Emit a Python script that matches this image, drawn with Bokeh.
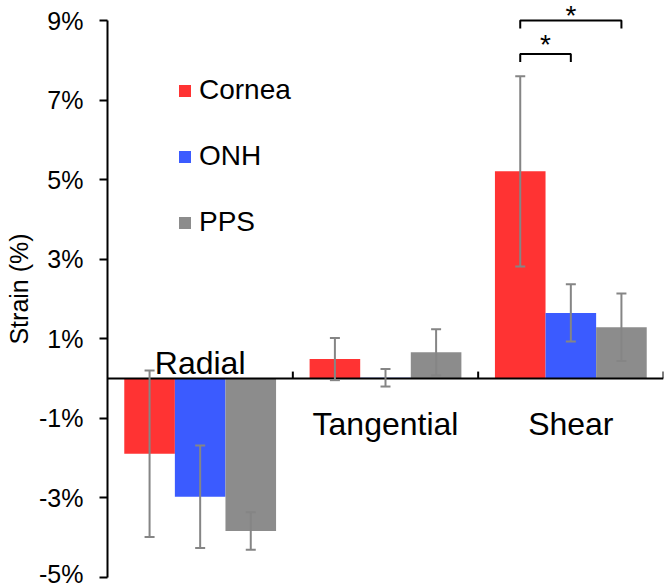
import math
from bokeh.plotting import figure
from bokeh.models import (ColumnDataSource, Range1d, FixedTicker, PrintfTickFormatter,
                          Span, Whisker, TeeHead, Legend, LegendItem)
from bokeh.core.properties import value
from bokeh.embed import file_html
from bokeh.resources import INLINE

# ---- data ----
categories = ["Radial", "Tangential", "Shear"]
series = ["Cornea", "ONH", "PPS"]
cornea = [-1.89, 0.49, 5.21]
cornea_err = [2.09, 0.53, 2.39]
onh = [-2.97, 0.02, 1.65]
onh_err = [1.29, 0.22, 0.72]
pps = [-3.83, 0.66, 1.29]
pps_err = [0.47, 0.58, 0.85]
y_ticks = [-5, -3, -1, 1, 3, 5, 7, 9]
sig_category = "Shear"
sig_pairs = [("Cornea", "ONH"), ("Cornea", "PPS")]
sig_levels = [8.16, 9.0]
sig_marks = ["*", "*"]

# ---- style ----
FONT = "Liberation Sans"
colors = ["#ff3333", "#3b5bff", "#8c8c8c"]
err_color = "#858585"
bar_w = 0.273
offsets = [-bar_w, 0.0, bar_w]
star_offsets = [-9, -5]

p = figure(width=666, height=587, output_backend="svg", toolbar_location=None,
           x_range=Range1d(0, 3), y_range=Range1d(-5, 9.503),
           x_axis_location=None,
           min_border_left=107, min_border_right=3, min_border_top=0, min_border_bottom=10)
p.outline_line_color = None
p.grid.visible = False
p.background_fill_color = "white"

# y axis
ya = p.yaxis[0]
ya.ticker = FixedTicker(ticks=y_ticks)
ya.formatter = PrintfTickFormatter(format="%d%%")
ya.bounds = (-5, 9)
ya.axis_line_width = 2
ya.axis_line_color = "black"
ya.major_tick_line_width = 2
ya.major_tick_in = 0
ya.major_tick_out = 8
ya.minor_tick_line_color = None
ya.major_label_standoff = 16
ya.major_label_text_font = FONT
ya.major_label_text_font_size = "25px"
ya.major_label_text_color = "black"
ya.axis_label = "Strain (%)"
ya.axis_label_text_font = FONT
ya.axis_label_text_font_size = "25px"
ya.axis_label_text_font_style = "normal"
ya.axis_label_text_color = "black"
ya.axis_label_standoff = 3

# baseline at zero with small upward ticks at category boundaries
p.add_layout(Span(location=0, dimension="width", line_color="black", line_width=2))
bounds_x = list(range(1, len(categories) + 1))
p.ray(x=bounds_x, y=[0] * len(bounds_x), length=7, length_units="screen",
      angle=math.pi / 2, line_color="black", line_width=2)

# bars + error bars
vals_all = [cornea, onh, pps]
errs_all = [cornea_err, onh_err, pps_err]
renderers = []
centers = {}
for j, s in enumerate(series):
    xs = [i + 0.5 + offsets[j] for i in range(len(categories))]
    for i, c in enumerate(categories):
        centers[(c, s)] = xs[i]
    vals = vals_all[j]
    errs = errs_all[j]
    src = ColumnDataSource(dict(x=xs, top=vals,
                                lower=[v - e for v, e in zip(vals, errs)],
                                upper=[v + e for v, e in zip(vals, errs)]))
    r = p.vbar(x="x", top="top", bottom=0, width=bar_w, source=src,
               fill_color=colors[j], line_color=None)
    renderers.append(r)
    w = Whisker(base="x", lower="lower", upper="upper", source=src,
                line_color=err_color, line_width=2, level="annotation",
                upper_head=TeeHead(size=10, line_color=err_color, line_width=2),
                lower_head=TeeHead(size=10, line_color=err_color, line_width=2))
    p.add_layout(w)

# category labels (above axis when the group is negative, else below)
cat_src = ColumnDataSource(dict(
    x=[i + 0.5 for i in range(len(categories))],
    y=[0] * len(categories),
    text=categories,
    yoff=[-16 if cornea[i] < 0 else 45 for i in range(len(categories))]))
p.text(x="x", y="y", text="text", y_offset="yoff", source=cat_src,
       text_align="center", text_baseline="alphabetic",
       text_font=value(FONT), text_font_size="32px", text_color="black")

# significance brackets
bx, by, sx, sy = [], [], [], []
for (a, b), lev in zip(sig_pairs, sig_levels):
    x0 = centers[(sig_category, a)]
    x1 = centers[(sig_category, b)]
    bx.append([x0, x0, x1, x1])
    by.append([lev - 0.2, lev, lev, lev - 0.2])
    sx.append((x0 + x1) / 2)
    sy.append(lev)
p.multi_line(xs=bx, ys=by, line_color="black", line_width=2)
p.text(x="x", y="y", text="t", y_offset="o",
       source=ColumnDataSource(dict(x=sx, y=sy, t=sig_marks, o=star_offsets)),
       text_align="center", text_baseline="alphabetic",
       text_font=value(FONT), text_font_size="28px", text_color="black")

# legend
legend = Legend(items=[LegendItem(label=s, renderers=[r]) for s, r in zip(series, renderers)],
                location=(70, 339), margin=0, padding=0, spacing=34,
                glyph_width=15, glyph_height=15, label_standoff=7, label_height=32,
                label_text_font=FONT, label_text_font_size="28px", label_text_color="black",
                border_line_color=None, background_fill_alpha=0)
p.add_layout(legend)

open("out.html", "w").write(file_html(p, INLINE))
